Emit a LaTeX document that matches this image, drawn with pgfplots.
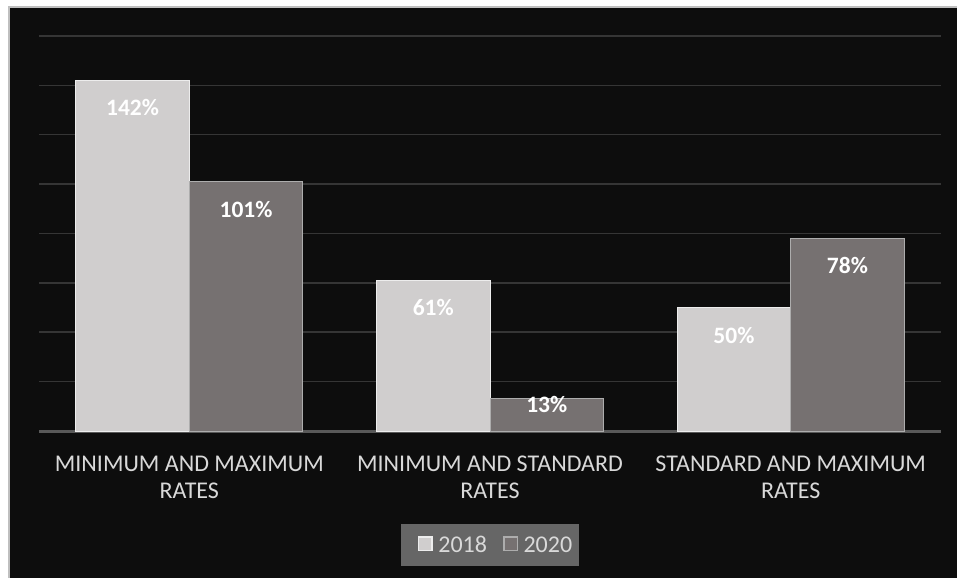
\documentclass[border=0pt]{standalone}
\usepackage{pgfplots}
\pgfplotsset{compat=1.18}
\usepackage{fontspec}
\setmainfont{Carlito}
\definecolor{bg}{HTML}{0D0D0D}
\definecolor{gridc}{HTML}{353535}
\definecolor{axisc}{HTML}{595959}
\definecolor{barA}{HTML}{D0CECE}
\definecolor{barB}{HTML}{767171}
\definecolor{edgeA}{HTML}{EDEDED}
\definecolor{edgeB}{HTML}{ADADAD}
\definecolor{tickc}{HTML}{D9D9D9}
\definecolor{legbg}{HTML}{666666}
\definecolor{framec}{HTML}{BFBFBF}
\begin{document}
\begin{tikzpicture}[x=1pt,y=1pt]
\useasboundingbox (0,0) rectangle (957,578);
\fill[white] (0,0) rectangle (957,578);
\fill[bg] (9,0) rectangle (957,571);
\draw[framec, line width=2.5pt] (9,0) -- (9,571) -- (957,571);
\begin{axis}[
  at={(39pt,147pt)}, anchor=south west,
  width=902pt, height=395pt, scale only axis,
  xmin=-0.5, xmax=2.5, ymin=0, ymax=160,
  /pgf/number format/assume math mode=true,
  axis x line*=bottom, axis y line*=left,
  y axis line style={draw=none},
  x axis line style={draw=axisc, line width=3pt, -},
  ytick={20,40,...,160}, yticklabels={},
  ymajorgrids, grid style={draw=gridc, line width=1.5pt},
  major tick length=0pt,
  xtick={0,1,2},
  xticklabels={{MINIMUM AND MAXIMUM\\RATES},{MINIMUM AND STANDARD\\RATES},{STANDARD AND MAXIMUM\\RATES}},
  xticklabel style={font=\fontsize{24}{27.5}\selectfont, text=tickc, align=center, anchor=north, inner sep=0pt, yshift=-24.5pt},
  every node near coord/.append style={font=\fontsize{23.5}{28}\selectfont\bfseries, text=white, anchor=base},
  legend image code/.code={\path[draw=none, fill=none] (0pt,0pt) rectangle (25pt,0.1pt);\draw[#1, line width=1.5pt] (10.75pt,-5.5pt) rectangle (24.25pt,8pt);},
  legend style={at={(0.5,-0.2886)}, anchor=center, draw=none, fill=legbg, text=tickc,
    font=\fontsize{24}{27}\selectfont, inner xsep=7pt, inner ysep=12.5pt,
    nodes={inner sep=0pt},
    /tikz/every even column/.append style={column sep=6pt},
    /tikz/every odd column/.append style={column sep=5.5pt}},
  legend columns=2,
]
\addplot[ybar, bar width=113.5pt, bar shift=-56.75pt, fill=barA, draw=edgeA, line width=1pt,
  nodes near coords={\pgfmathprintnumber{\pgfplotspointmeta}\%},
  every node near coord/.append style={xshift=-56.75pt, yshift=-35.5pt}]
  coordinates {(0,142) (1,61) (2,50)};
\addlegendentry{2018}
\addplot[ybar, bar width=113.5pt, bar shift=56.75pt, fill=barB, draw=edgeB, line width=1pt,
  nodes near coords={\pgfmathprintnumber{\pgfplotspointmeta}\%},
  every node near coord/.append style={xshift=56.75pt, yshift=-35.5pt}]
  coordinates {(0,101) (2,78)};
\addlegendentry{2020}
\addplot[ybar, forget plot, bar width=113.5pt, bar shift=56.75pt, fill=barB, draw=edgeB, line width=1pt,
  nodes near coords={\pgfmathprintnumber{\pgfplotspointmeta}\%},
  every node near coord/.append style={xshift=56.75pt, yshift=-14pt}]
  coordinates {(1,13)};
\end{axis}
\end{tikzpicture}
\end{document}
